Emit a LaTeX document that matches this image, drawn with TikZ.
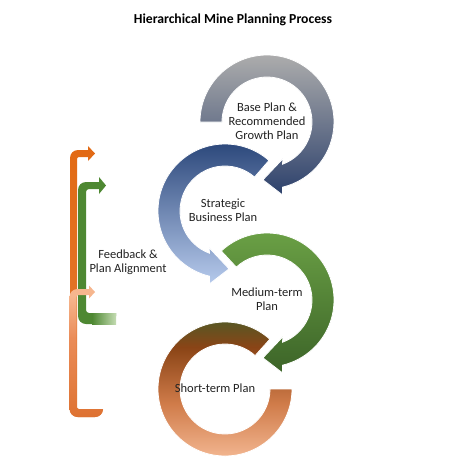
\documentclass[tikz,border=0pt]{standalone}
\usepackage{fontspec}
\setmainfont{Carlito}
\definecolor{txtC}{RGB}{35,35,35}
\definecolor{grayA}{RGB}{172,172,172}
\definecolor{grayB}{RGB}{160,161,164}
\definecolor{navyA}{RGB}{45,65,108}
\definecolor{blueA}{RGB}{38,66,118}
\definecolor{blueB}{RGB}{110,142,198}
\definecolor{blueC}{RGB}{182,202,236}
\definecolor{grnTop}{RGB}{108,162,70}
\definecolor{grnMid}{RGB}{84,134,54}
\definecolor{grnBot}{RGB}{60,100,40}
\definecolor{oliveC}{RGB}{74,92,40}
\definecolor{brownC}{RGB}{138,68,22}
\definecolor{orangeC}{RGB}{208,124,74}
\definecolor{peachC}{RGB}{246,188,152}
\definecolor{orgA}{RGB}{226,106,20}
\definecolor{orgB}{RGB}{228,122,52}
\definecolor{pchA}{RGB}{246,182,142}
\definecolor{pchM}{RGB}{234,140,88}
\definecolor{pchB}{RGB}{222,114,50}
\definecolor{grnA}{RGB}{78,136,50}
\definecolor{grnL}{RGB}{196,220,178}
\pgfdeclareverticalshading{brownring}{100bp}{color(0bp)=(peachC); color(25bp)=(peachC); color(45bp)=(orangeC); color(64bp)=(brownC); color(75bp)=(oliveC); color(100bp)=(oliveC)}
\pgfdeclareverticalshading{peachbar}{100bp}{color(0bp)=(pchB); color(25bp)=(pchB); color(55bp)=(pchM); color(71bp)=(pchA); color(100bp)=(pchA)}
\begin{document}
\begin{tikzpicture}[x=1pt, y=1pt,
  lbl/.style={align=center, font=\fontsize{12.5}{14}\selectfont, text=txtC, inner sep=0pt},
  ring/.style={draw=white, line width=0.8pt}]
\useasboundingbox[fill=white] (0,0) rectangle (474,-467);
\coordinate (cen1) at (267,-122);
\coordinate (cen2) at (225,-211);
\coordinate (cen3) at (267,-300);
\coordinate (cen4) at (225,-389);
\begin{scope}[shift={(cen1)}]
\shade[ring, top color=grayA, middle color=grayB, bottom color=navyA] (180:67pt) arc[start angle=180, end angle=-76.6, radius=67pt] -- (-78:74.5pt) -- (-94:58pt) -- (-66.6:40pt) -- (-69.8:45pt) arc[start angle=-69.8, end angle=180, radius=45pt] -- cycle;
\end{scope}
\begin{scope}[shift={(cen2)}]
\shade[ring, top color=blueA, middle color=blueB, bottom color=blueC] (49:67pt) arc[start angle=49, end angle=256.6, radius=67pt] -- (258:74.5pt) -- (274:58pt) -- (246.6:40pt) -- (249.8:45pt) arc[start angle=249.8, end angle=49, radius=45pt] -- cycle;
\end{scope}
\begin{scope}[shift={(cen3)}]
\shade[ring, top color=grnTop, middle color=grnMid, bottom color=grnBot] (133:67pt) arc[start angle=133, end angle=-76.6, radius=67pt] -- (-78:74.5pt) -- (-94:58pt) -- (-66.6:40pt) -- (-69.8:45pt) arc[start angle=-69.8, end angle=133, radius=45pt] -- cycle;
\end{scope}
\begin{scope}[shift={(cen4)}]
\shade[ring, shading=brownring] (48:67pt) arc[start angle=48, end angle=360, radius=67pt] -- (0:45pt) arc[start angle=360, end angle=48, radius=45pt] -- cycle;
\end{scope}
\shade[top color=orgA, bottom color=orgB] (88,-150) [rounded corners=8pt] -- (70,-150) -- (70,-417) -- (103,-417) [sharp corners] -- (103,-409) [rounded corners=2pt] -- (77,-409) -- (77,-157) [sharp corners] -- (88,-157) -- (88,-161) -- (95,-153.5) -- (88,-146) -- cycle;
\fill[grnA] (99,-182) [rounded corners=8pt] -- (78,-182) -- (78,-324) -- (116,-324) [sharp corners] -- (116,-313) [rounded corners=3pt] -- (86,-313) -- (86,-189) [sharp corners] -- (99,-189) -- (99,-194) -- (106,-185.5) -- (99,-177) -- cycle;
\shade[left color=grnA, right color=grnL] (92,-313) rectangle (116,-324);
\shade[shading=peachbar] (89,-289) [rounded corners=8pt] -- (69.5,-289) -- (69.5,-417) -- (103,-417) [sharp corners] -- (103,-409) [rounded corners=2pt] -- (76.5,-409) -- (76.5,-295) [sharp corners] -- (89,-295) -- (89,-298.5) -- (95,-292) -- (89,-285.5) -- cycle;
\node[lbl, font=\bfseries\fontsize{13.7}{15}\selectfont, text=black] (lbl0) at (233,-20) {Hierarchical Mine Planning Process};
\node[lbl] (lbl1) at (267,-121) {Base Plan \&\\Recommended\\Growth Plan};
\node[lbl] (lbl2) at (223,-210) {Strategic\\Business Plan};
\node[lbl] (lbl3) at (267,-299) {Medium-term\\Plan};
\node[lbl] (lbl4) at (215,-388) {Short-term Plan};
\node[lbl] (lbl5) at (128,-262) {Feedback \&\\Plan Alignment};
\end{tikzpicture}
\end{document}
